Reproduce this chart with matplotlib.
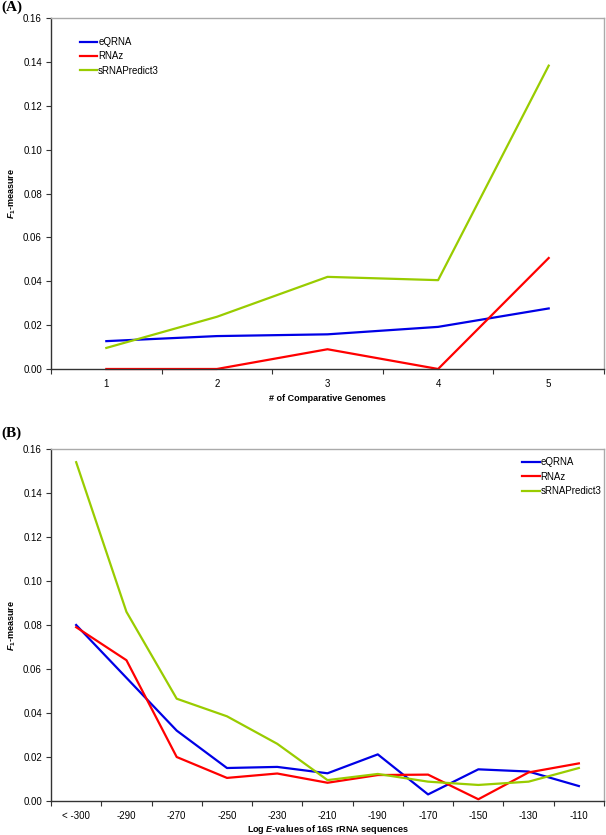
import matplotlib.pyplot as plt
import numpy as np

plt.rcParams['font.family'] = ['Liberation Sans', 'DejaVu Sans']
plt.rcParams['mathtext.fontset'] = 'custom'
plt.rcParams['mathtext.rm'] = 'Liberation Sans:bold'
plt.rcParams['mathtext.it'] = 'Liberation Sans:italic:bold'
plt.rcParams['mathtext.bf'] = 'Liberation Sans:bold'

#__________________DATA

genomes = ['1', '2', '3', '4', '5']
a_eqrna = [0.0127, 0.0150, 0.0158, 0.0192, 0.0276]
a_rnaz = [0.0, 0.0, 0.0090, 0.0, 0.0506]
a_srna = [0.0096, 0.0238, 0.0420, 0.0405, 0.1383]

evalues = ['< -300', '-290', '-270', '-250', '-230', '-210',
           '-190', '-170', '-150', '-130', '-110']
b_eqrna = [0.0800, 0.0560, 0.0320, 0.0150, 0.0155, 0.0126,
           0.0212, 0.0030, 0.0144, 0.0134, 0.0068]
b_rnaz = [0.0790, 0.0640, 0.0200, 0.0105, 0.0125, 0.0083,
          0.0118, 0.0120, 0.0008, 0.0130, 0.0171]
b_srna = [0.1540, 0.0860, 0.0465, 0.0385, 0.0260, 0.0095,
          0.0123, 0.0088, 0.0073, 0.0088, 0.0150]

series_names = ['eQRNA', 'RNAz', 'sRNAPredict3']
colors = ['#0000e6', '#ff0000', '#99cc00']

#__________________FIGURE

fig = plt.figure(figsize=(6.06, 8.35), dpi=100)


def style_axes(ax, labels, xlabel, xpad):
    n = len(labels)
    x = np.arange(1, n + 1)
    yt = np.arange(0, 0.161, 0.02)
    ax.set_xlim(0.5, n + 0.5)
    ax.set_ylim(0, 0.16)
    ax.set_yticks(yt)
    ax.set_yticklabels(['%.2f' % v for v in yt])
    ax.set_xticks(x)
    ax.set_xticklabels(labels)
    ax.set_xticks(np.arange(0.5, n + 1), minor=True)
    ax.tick_params(axis='x', which='major', length=0, labelsize=7, pad=7)
    ax.tick_params(axis='x', which='minor', length=3.5, width=0.8, color='#333333')
    ax.tick_params(axis='y', length=3.5, width=0.8, labelsize=7, pad=3, color='#333333')
    for s in ['left', 'bottom']:
        ax.spines[s].set_color('#333333')
        ax.spines[s].set_linewidth(1.0)
    for s in ['top', 'right']:
        ax.spines[s].set_color('#aaaaaa')
        ax.spines[s].set_linewidth(1.0)
    ax.set_ylabel(r'$\mathit{F}_{\mathbf{1}}$-measure', fontsize=6.5, fontweight='bold', labelpad=4)
    ax.set_xlabel(xlabel, fontsize=6.5, fontweight='bold', labelpad=xpad)
    return x


# Panel A
ax = fig.add_axes([0.0842, 0.5581, 0.9125, 0.4203])
x = style_axes(ax, genomes, '# of Comparative Genomes', 3.5)
for vals, name, c in zip([a_eqrna, a_rnaz, a_srna], series_names, colors):
    ax.plot(x, vals, color=c, lw=1.6, label=name, clip_on=False)
ax.legend(loc='upper left', bbox_to_anchor=(0.043, 0.96), frameon=False, fontsize=7,
          handlelength=1.8, handletextpad=0.1, labelspacing=0.45, borderpad=0)
fig.text(0.002, 0.999, '(A)', fontsize=11, fontweight='bold', family='Liberation Serif',
         va='top', ha='left')

# Panel B
ax = fig.add_axes([0.0842, 0.0407, 0.9125, 0.4216])
x = style_axes(ax, evalues, r'Log $\mathit{E}$-values of 16S rRNA sequences', 1.5)
for vals, name, c in zip([b_eqrna, b_rnaz, b_srna], series_names, colors):
    ax.plot(x, vals, color=c, lw=1.6, label=name, clip_on=False)
ax.legend(loc='upper left', bbox_to_anchor=(0.843, 0.99), frameon=False, fontsize=7,
          handlelength=1.8, handletextpad=0.1, labelspacing=0.45, borderpad=0)
fig.text(0.002, 0.489, '(B)', fontsize=11, fontweight='bold', family='Liberation Serif',
         va='top', ha='left')

plt.savefig('out.png', dpi=100)
plt.close()
